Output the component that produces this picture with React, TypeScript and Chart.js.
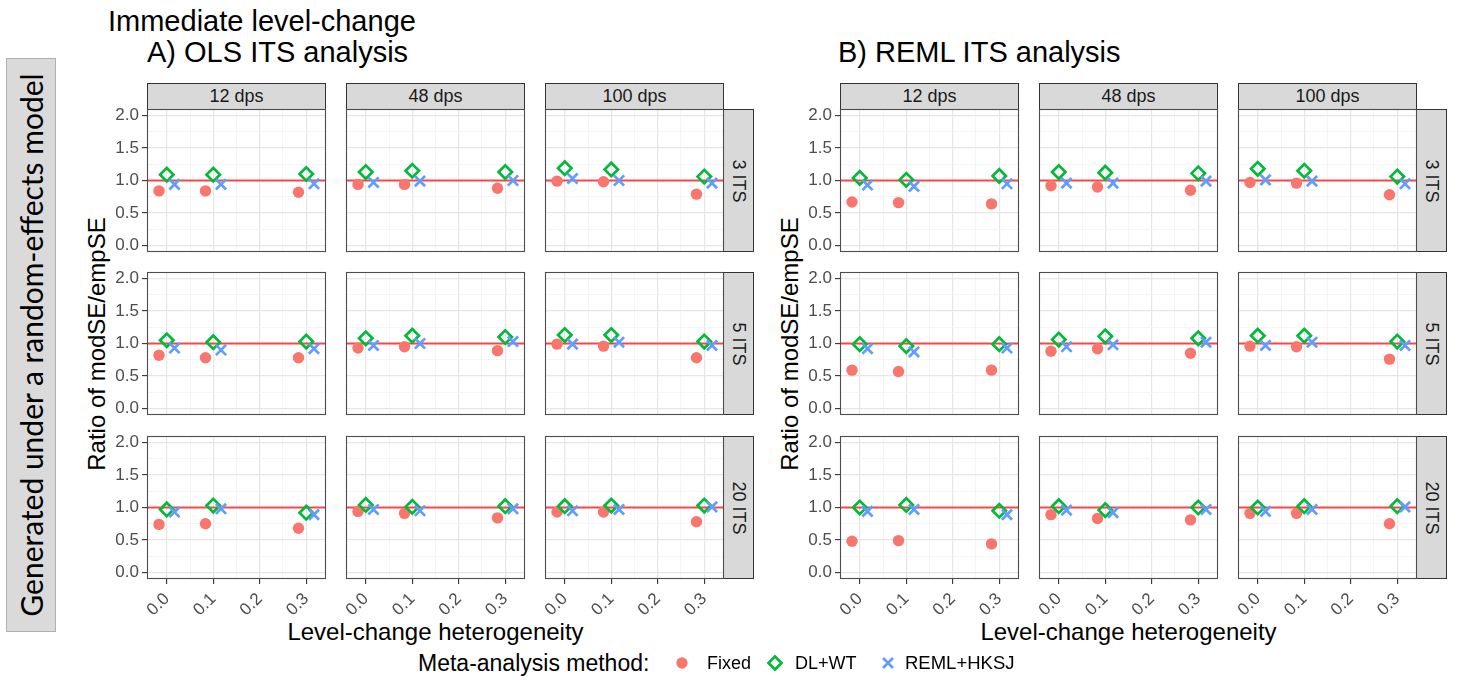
import React, { useEffect, useRef } from 'react';
import { Chart, registerables } from 'chart.js';

Chart.register(...registerables);

// ---------------- data ----------------
const heterogeneity = [0, 0.1, 0.3];
const xMajorTicks = [0, 0.1, 0.2, 0.3];
const xMinorTicks = [0.05, 0.15, 0.25];
const yMajorTicks = [0, 0.5, 1, 1.5, 2];
const yMinorTicks = [0.25, 0.75, 1.25, 1.75];
const methods = ['Fixed', 'DL+WT', 'REML+HKSJ'];
const dpsLabels = ['12 dps', '48 dps', '100 dps'];
const itsLabels = ['3 ITS', '5 ITS', '20 ITS'];
const referenceRatio = 1;

// values indexed [ITS row][dps column][heterogeneity]
const olsFixed = [
  [[0.84, 0.84, 0.82], [0.94, 0.94, 0.88], [0.99, 0.98, 0.79]],
  [[0.82, 0.78, 0.78], [0.93, 0.95, 0.89], [0.99, 0.96, 0.78]],
  [[0.74, 0.75, 0.68], [0.94, 0.91, 0.84], [0.93, 0.93, 0.78]],
];
const olsDLWT = [
  [[1.09, 1.09, 1.10], [1.13, 1.15, 1.13], [1.19, 1.17, 1.06]],
  [[1.05, 1.02, 1.03], [1.08, 1.12, 1.10], [1.13, 1.13, 1.03]],
  [[0.97, 1.03, 0.92], [1.04, 1.01, 1.02], [1.02, 1.03, 1.03]],
];
const olsREMLHKSJ = [
  [[0.94, 0.94, 0.95], [0.97, 0.99, 1.00], [1.03, 1.00, 0.96]],
  [[0.93, 0.90, 0.92], [0.97, 1.00, 1.03], [0.99, 1.02, 0.97]],
  [[0.93, 0.98, 0.89], [0.97, 0.95, 0.98], [0.95, 0.97, 1.01]],
];
const remlFixed = [
  [[0.67, 0.66, 0.64], [0.92, 0.90, 0.85], [0.97, 0.96, 0.78]],
  [[0.59, 0.57, 0.59], [0.88, 0.92, 0.85], [0.96, 0.95, 0.76]],
  [[0.48, 0.49, 0.44], [0.89, 0.83, 0.81], [0.91, 0.91, 0.75]],
];
const remlDLWT = [
  [[1.04, 1.01, 1.07], [1.13, 1.12, 1.11], [1.18, 1.15, 1.06]],
  [[0.99, 0.96, 0.99], [1.06, 1.11, 1.08], [1.12, 1.12, 1.03]],
  [[1.00, 1.04, 0.95], [1.02, 0.96, 1.00], [1.00, 1.02, 1.02]],
];
const remlREMLHKSJ = [
  [[0.93, 0.91, 0.95], [0.96, 0.96, 0.99], [1.01, 0.99, 0.95]],
  [[0.92, 0.87, 0.93], [0.95, 0.98, 1.02], [0.97, 1.02, 0.97]],
  [[0.94, 0.97, 0.89], [0.96, 0.92, 0.97], [0.94, 0.97, 1.01]],
];

// ---------------- style / layout ----------------
const FONT = '"Liberation Sans", Arial, Helvetica, sans-serif';
const STRIP_FONT = 'Lato, "Noto Sans", sans-serif';
const COLORS = ['#F8766D', '#00BA38', '#619CFF'];
const DODGE = [-1 / 60, 0, 1 / 60];
const X_MIN = -0.0425;
const X_MAX = 0.3425;
const Y_MIN = -0.1;
const Y_MAX = 2.1;

const A_LEFTS = [147, 346, 545];
const B_LEFTS = [840, 1039, 1238];
const TOPS = [109, 272, 436];
const PW = 179;
const PH = 143;
const STRIP_H = 26;
const STRIP_W = 30;
const PAD = 14;
const Y_AXIS_W = 42;
const X_AXIS_H = 52;
const TICK_SIZE = 17;

const isIn = (arr: number[], v: number) => arr.some((a) => Math.abs(a - v) < 1e-9);

const panelBorder = {
  id: 'panelBorder',
  afterDraw(chart: any) {
    const { ctx, chartArea } = chart;
    ctx.save();
    ctx.strokeStyle = '#4D4D4D';
    ctx.lineWidth = 1.1;
    ctx.strokeRect(chartArea.left + 0.5, chartArea.top + 0.5, chartArea.right - chartArea.left - 1, chartArea.bottom - chartArea.top - 1);
    ctx.restore();
  },
};

function Panel({ analysis, row, col }: { analysis: number; row: number; col: number }) {
  const ref = useRef<HTMLCanvasElement>(null);
  const isLeft = col === 0;
  const isBottom = row === 2;
  const yW = isLeft ? Y_AXIS_W : 0;
  const xH = isBottom ? X_AXIS_H : 0;
  const plotLeft = (analysis === 0 ? A_LEFTS : B_LEFTS)[col];
  const plotTop = TOPS[row];
  const W = PAD + yW + PW + PAD;
  const H = PAD + PH + xH + PAD;

  useEffect(() => {
    const series =
      analysis === 0 ? [olsFixed, olsDLWT, olsREMLHKSJ] : [remlFixed, remlDLWT, remlREMLHKSJ];
    const pointStyles = ['circle', 'rectRot', 'crossRot'];
    const radii = [5.7, 6.7, 7.2];
    const datasets: any[] = series.map((s, m) => ({
      type: 'scatter',
      label: methods[m],
      data: heterogeneity.map((h, i) => ({ x: h + DODGE[m], y: s[row][col][i] })),
      pointStyle: pointStyles[m],
      pointRadius: radii[m],
      backgroundColor: m === 0 ? COLORS[0] : 'rgba(0,0,0,0)',
      borderColor: COLORS[m],
      borderWidth: m === 0 ? 0 : 2.7,
      order: 3 - m,
    }));
    datasets.push({
      type: 'line',
      label: 'reference',
      data: [
        { x: X_MIN, y: referenceRatio },
        { x: X_MAX, y: referenceRatio },
      ],
      borderColor: 'rgba(255,30,30,0.8)',
      borderWidth: 2.2,
      pointRadius: 0,
      order: 10,
    });

    const gridColor = (ctx: any, major: number[]) => {
      const v = ctx.tick ? ctx.tick.value : 0;
      return isIn(major, v) ? '#E6E6E6' : '#F2F2F2';
    };
    const gridWidth = (ctx: any, major: number[]) => {
      const v = ctx.tick ? ctx.tick.value : 0;
      return isIn(major, v) ? 1.2 : 0.8;
    };
    const tickColor = (ctx: any, major: number[]) => {
      const v = ctx.tick ? ctx.tick.value : 0;
      return isIn(major, v) ? '#333333' : 'rgba(0,0,0,0)';
    };

    const chart = new Chart(ref.current as HTMLCanvasElement, {
      type: 'scatter',
      data: { datasets },
      options: {
        animation: false,
        responsive: false,
        devicePixelRatio: 1,
        events: [],
        layout: { padding: PAD },
        plugins: { legend: { display: false }, tooltip: { enabled: false } },
        scales: {
          x: {
            type: 'linear',
            position: 'bottom',
            min: X_MIN,
            max: X_MAX,
            bounds: 'data',
            afterBuildTicks: (s: any) => {
              s.ticks = [...xMajorTicks, ...xMinorTicks].sort((a, b) => a - b).map((v) => ({ value: v }));
            },
            afterFit: (s: any) => {
              s.height = xH;
              s.paddingLeft = 0;
              s.paddingRight = 0;
              s.paddingTop = 0;
              s.paddingBottom = 0;
            },
            border: { display: false },
            grid: {
              color: (c: any) => gridColor(c, xMajorTicks),
              lineWidth: (c: any) => gridWidth(c, xMajorTicks),
              drawTicks: isBottom,
              tickLength: 5,
              tickColor: (c: any) => tickColor(c, xMajorTicks),
              tickWidth: 1.1,
            },
            ticks: {
              display: isBottom,
              autoSkip: false,
              minRotation: 45,
              maxRotation: 45,
              padding: 5,
              color: '#4D4D4D',
              font: { family: FONT, size: TICK_SIZE },
              callback: (v: any) => (isIn(xMajorTicks, Number(v)) ? Number(v).toFixed(1) : ''),
            },
          },
          y: {
            type: 'linear',
            position: 'left',
            min: Y_MIN,
            max: Y_MAX,
            bounds: 'data',
            afterBuildTicks: (s: any) => {
              s.ticks = [...yMajorTicks, ...yMinorTicks].sort((a, b) => a - b).map((v) => ({ value: v }));
            },
            afterFit: (s: any) => {
              s.width = yW;
              s.paddingLeft = 0;
              s.paddingRight = 0;
              s.paddingTop = 0;
              s.paddingBottom = 0;
            },
            border: { display: false },
            grid: {
              color: (c: any) => gridColor(c, yMajorTicks),
              lineWidth: (c: any) => gridWidth(c, yMajorTicks),
              drawTicks: isLeft,
              tickLength: 5,
              tickColor: (c: any) => tickColor(c, yMajorTicks),
              tickWidth: 1.1,
            },
            ticks: {
              display: isLeft,
              autoSkip: false,
              padding: 3,
              color: '#4D4D4D',
              font: { family: FONT, size: TICK_SIZE },
              callback: (v: any) => (isIn(yMajorTicks, Number(v)) ? Number(v).toFixed(1) : ''),
            },
          },
        },
      } as any,
      plugins: [panelBorder],
    });
    return () => chart.destroy();
  }, [analysis, row, col]);

  return (
    <canvas
      ref={ref}
      width={W}
      height={H}
      style={{
        position: 'absolute',
        left: plotLeft - PAD - yW,
        top: plotTop - PAD,
        width: W,
        height: H,
      }}
    />
  );
}

function Txt({
  x,
  y,
  text,
  size,
  center = false,
  rotate = 0,
  color = '#000',
  family = FONT,
}: {
  x: number;
  y: number;
  text: string;
  size: number;
  center?: boolean;
  rotate?: number;
  color?: string;
  family?: string;
}) {
  return (
    <div
      style={{
        position: 'absolute',
        left: x,
        top: y,
        transform: center ? `translate(-50%, -50%) rotate(${rotate}deg)` : 'translateY(-50%)',
        fontFamily: family,
        fontSize: size,
        lineHeight: 1,
        color,
        whiteSpace: 'nowrap',
      }}
    >
      {text}
    </div>
  );
}

const stripStyle: React.CSSProperties = {
  position: 'absolute',
  background: '#D9D9D9',
  border: '1px solid #333333',
  boxSizing: 'border-box',
};

export default function App() {
  const panels: React.ReactNode[] = [];
  const decorations: React.ReactNode[] = [];
  [0, 1].forEach((a) => {
    const lefts = a === 0 ? A_LEFTS : B_LEFTS;
    lefts.forEach((l, c) => {
      decorations.push(
        <div key={`ts${a}${c}`} style={{ ...stripStyle, left: l, top: TOPS[0] - STRIP_H, width: PW, height: STRIP_H + 1 }} />
      );
      decorations.push(
        <Txt key={`tt${a}${c}`} x={l + PW / 2} y={TOPS[0] - STRIP_H / 2} text={dpsLabels[c]} size={18} center color="#1A1A1A" />
      );
    });
    TOPS.forEach((t, r) => {
      const rl = lefts[2] + PW - 1;
      decorations.push(
        <div key={`rs${a}${r}`} style={{ ...stripStyle, left: rl, top: t, width: STRIP_W + 1, height: PH }} />
      );
      decorations.push(
        <Txt key={`rt${a}${r}`} x={rl + (STRIP_W + 1) / 2} y={t + PH / 2} text={itsLabels[r]} size={18} center rotate={90} color="#1A1A1A" />
      );
      [0, 1, 2].forEach((c) => {
        panels.push(<Panel key={`p${a}${r}${c}`} analysis={a} row={r} col={c} />);
      });
    });
    const midX = (lefts[0] + lefts[2] + PW) / 2;
    const midY = (TOPS[0] + TOPS[2] + PH) / 2;
    decorations.push(
      <Txt key={`xt${a}`} x={midX} y={632} text="Level-change heterogeneity" size={24} center />
    );
    decorations.push(
      <Txt key={`yt${a}`} x={lefts[0] - 50} y={midY} text="Ratio of modSE/empSE" size={24} center rotate={-90} />
    );
  });

  return (
    <div style={{ position: 'absolute', left: 0, top: 0, width: 1457, height: 680, background: '#fff', overflow: 'hidden' }}>
      <div
        style={{
          position: 'absolute',
          left: 6,
          top: 58,
          width: 50,
          height: 574,
          background: '#DADADA',
          border: '1px solid #B0B0B0',
          boxSizing: 'border-box',
        }}
      />
      <Txt x={31} y={345} text="Generated under a random-effects model" size={30} center rotate={-90} family={STRIP_FONT} />
      <Txt x={108} y={21} text="Immediate level-change" size={29} />
      <Txt x={147} y={52} text="A) OLS ITS analysis" size={29} />
      <Txt x={838} y={52} text="B) REML ITS analysis" size={29} />
      {decorations}
      {panels}
      <Txt x={418} y={663} text="Meta-analysis method:" size={23} />
      <svg style={{ position: 'absolute', left: 670, top: 651 }} width={24} height={24}>
        <circle cx={12} cy={12} r={5.7} fill={COLORS[0]} />
      </svg>
      <Txt x={707} y={663} text={methods[0]} size={18} />
      <svg style={{ position: 'absolute', left: 763, top: 651 }} width={24} height={24}>
        <polygon points="12,5.5 18.5,12 12,18.5 5.5,12" fill="none" stroke={COLORS[1]} strokeWidth={2.7} />
      </svg>
      <Txt x={795} y={663} text={methods[1]} size={18} />
      <svg style={{ position: 'absolute', left: 876, top: 651 }} width={24} height={24}>
        <path d="M7,7 L17,17 M17,7 L7,17" stroke={COLORS[2]} strokeWidth={2.7} />
      </svg>
      <Txt x={905} y={663} text={methods[2]} size={18.5} />
    </div>
  );
}
